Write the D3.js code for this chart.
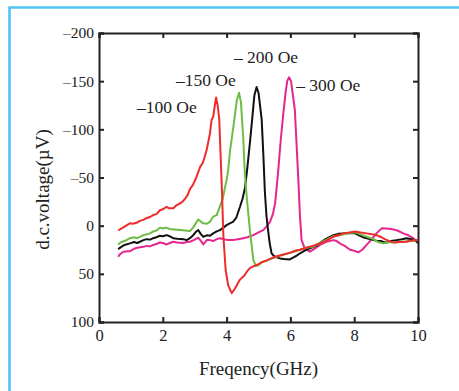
<!DOCTYPE html>
<html>
<head>
<meta charset="utf-8">
<script src="https://d3js.org/d3.v7.min.js"></script>
<style>
  body { margin: 0; background: #fff; }
  text { font-family: "Liberation Serif", "Times New Roman", serif; fill: #222; }
</style>
</head>
<body>
<div id="chart"></div>
<script>
// tick labels
var xTicks = [0, 2, 4, 6, 8, 10];
var yTicks = [-200, -150, -100, -50, 0, 50, 100];

// series: [frequency GHz, d.c. voltage uV]
var oe100 = [[0.6,5],[0.7,3],[0.8,1],[0.9,-1],[0.97,-2.4],[1.05,-2],[1.18,-3],[1.28,-5],[1.39,-6],[1.5,-8],[1.6,-9],[1.7,-11],[1.8,-12],[1.91,-16],[2.0,-17],[2.12,-19.6],[2.2,-18],[2.33,-18],[2.42,-21],[2.54,-23],[2.62,-25],[2.7,-28],[2.78,-32],[2.85,-38],[2.94,-42],[3.05,-50],[3.17,-61],[3.25,-65],[3.3,-70],[3.37,-78],[3.42,-86],[3.48,-96],[3.53,-110],[3.58,-113],[3.63,-125],[3.67,-133],[3.72,-125],[3.77,-110],[3.81,-75],[3.85,-40],[3.9,11],[3.97,46],[4.05,62],[4.16,70],[4.25,66],[4.35,60],[4.42,56],[4.55,52],[4.65,47],[4.73,44],[4.85,42],[5.0,40],[5.1,38],[5.26,36],[5.4,34],[5.55,32],[5.78,30],[6.0,28],[6.15,26],[6.3,25],[6.5,23],[6.7,21],[6.93,18.4],[7.1,16],[7.35,11.5],[7.5,10],[7.66,8],[7.85,7],[8.03,6],[8.2,7],[8.39,8],[8.55,9],[8.7,9.8],[8.85,12],[8.96,14],[9.1,16],[9.22,17.4],[9.4,17],[9.64,16.7],[9.8,15.5],[10,15]];
var oe150 = [[0.6,19.4],[0.7,17],[0.8,16],[0.97,13],[1.1,12],[1.2,13],[1.39,9.8],[1.5,9],[1.6,8],[1.7,6],[1.8,5],[1.91,2.2],[2.0,3],[2.1,2],[2.22,3.5],[2.35,4],[2.54,4.6],[2.7,5],[2.85,5.6],[2.95,2],[3.0,-0.6],[3.11,-6.5],[3.2,-4],[3.27,-2.4],[3.38,-2],[3.48,-4],[3.58,-9.3],[3.69,-11],[3.79,-20],[3.88,-28],[3.95,-40],[4.0,-47],[4.05,-58],[4.11,-78.5],[4.18,-95],[4.25,-112],[4.32,-130],[4.39,-138],[4.45,-128],[4.52,-92],[4.57,-55],[4.63,-30],[4.73,4.6],[4.84,35.7],[4.92,42],[5.0,41],[5.1,38],[5.2,37],[5.35,35],[5.5,33],[5.7,31],[5.9,29],[6.1,27],[6.3,25],[6.5,23],[6.7,22],[6.93,18],[7.1,15],[7.35,11],[7.55,10],[7.8,8],[8.03,7],[8.2,9],[8.39,11.5],[8.6,14],[8.75,17],[8.91,18.4],[9.1,17],[9.3,17.5],[9.5,16.7],[9.7,16],[9.85,15.6],[10,15]];
var oe200 = [[0.6,24.3],[0.7,22],[0.8,20],[0.97,18.4],[1.1,17],[1.2,18],[1.39,15],[1.5,14],[1.6,14.5],[1.7,13],[1.8,12],[1.91,10.5],[2.0,11],[2.12,9.8],[2.22,11],[2.33,13],[2.45,13.5],[2.64,14],[2.75,15],[2.85,13],[2.95,10],[3.05,6],[3.11,4.6],[3.2,9],[3.27,11.5],[3.38,10],[3.48,10.5],[3.58,8],[3.69,6],[3.79,4.6],[3.9,2],[4.0,-0.6],[4.1,-2.4],[4.2,-4],[4.3,-8],[4.42,-19.6],[4.5,-28],[4.58,-40],[4.65,-60],[4.73,-85.8],[4.8,-110],[4.87,-135],[4.94,-144],[5.0,-138],[5.1,-110],[5.15,-75],[5.2,-35],[5.25,-10],[5.3,4.6],[5.35,18],[5.41,28.8],[5.5,32],[5.67,34],[5.8,34.5],[5.98,35],[6.1,33],[6.2,31],[6.3,28.8],[6.45,26],[6.61,23.6],[6.8,21],[6.93,17.7],[7.1,14],[7.35,9.8],[7.5,8.5],[7.66,8],[7.85,7.5],[8.03,8],[8.15,10],[8.29,12.2],[8.5,14],[8.7,15.6],[8.85,16],[9.0,17.7],[9.15,16],[9.33,15],[9.5,14],[9.64,13],[9.8,14],[9.9,15],[10,18]];
var oe300 = [[0.6,32.3],[0.65,30],[0.76,27],[0.9,26.5],[0.97,26.5],[1.1,24],[1.2,23],[1.39,22],[1.5,21],[1.6,21.5],[1.7,20],[1.8,19],[1.91,17.4],[2.0,18],[2.12,19.5],[2.22,18],[2.33,16.7],[2.45,17.5],[2.64,18],[2.75,17],[2.85,16.7],[2.97,15],[3.11,12.5],[3.2,16],[3.27,19.4],[3.38,15],[3.48,15],[3.58,16],[3.69,14],[3.79,13],[3.9,14],[4.05,15],[4.2,15],[4.35,14],[4.52,13],[4.65,12],[4.84,9.8],[5.0,7],[5.15,4.6],[5.25,1],[5.36,-4],[5.45,-12],[5.52,-23],[5.57,-40],[5.62,-57.7],[5.7,-90],[5.78,-117],[5.85,-138],[5.9,-150],[5.96,-154],[6.02,-150],[6.08,-135],[6.14,-120],[6.2,-80],[6.25,-47],[6.3,-10],[6.35,15],[6.45,23.6],[6.61,27],[6.75,24],[6.93,20],[7.1,17],[7.35,15],[7.45,16],[7.55,18.4],[7.7,21],[7.87,25],[8.0,26],[8.13,27.7],[8.25,25],[8.39,20],[8.55,14],[8.7,8],[8.86,2.8],[9.0,3],[9.17,3.5],[9.35,5],[9.54,8],[9.7,10],[9.85,13],[9.98,16.7]];

var seriesNames = ["– 300 Oe", "– 200 Oe", "–150 Oe", "–100 Oe"];
var seriesData = [oe300, oe200, oe150, oe100];
var seriesColors = ["#e6268f", "#111111", "#6cbd45", "#ef2b2b"];
// label anchor in data units [freq, voltage]
var labelPos = [[6.18, -140], [4.23, -169], [2.41, -145], [1.19, -117]];

var width = 459, height = 391;
var plotLeft = 99, plotRight = 418, plotTop = 33, plotBottom = 322;

var svg = d3.select("#chart").append("svg")
    .attr("width", width)
    .attr("height", height);

// cyan frame
svg.append("path")
    .attr("d", "M9.5," + height + "V7.5H" + width)
    .attr("fill", "none")
    .attr("stroke", "#4fc4f4")
    .attr("stroke-width", 2.6);

var x = d3.scaleLinear().domain([0, 10]).range([plotLeft, plotRight]);
var y = d3.scaleLinear().domain([-200, 100]).range([plotTop, plotBottom]);

function fmt(d) { return d < 0 ? "–" + Math.abs(d) : String(d); }

// axes, ticks pointing inward
svg.append("g")
    .attr("transform", "translate(0," + plotBottom + ")")
    .call(d3.axisBottom(x).tickValues(xTicks).tickSize(-5).tickPadding(7).tickFormat(fmt))
    .call(function (g) {
        g.selectAll("text").style("font-size", "16.5px").attr("dy", "0.71em");
    });
svg.append("g")
    .attr("transform", "translate(" + plotLeft + ",0)")
    .call(d3.axisLeft(y).tickValues(yTicks).tickSize(-5).tickPadding(5).tickFormat(fmt))
    .call(function (g) {
        g.selectAll("text").style("font-size", "15.5px");
    });
svg.append("g")
    .attr("transform", "translate(0," + plotTop + ")")
    .call(d3.axisTop(x).tickValues(xTicks).tickSize(-5).tickFormat(""));
svg.append("g")
    .attr("transform", "translate(" + plotRight + ",0)")
    .call(d3.axisRight(y).tickValues(yTicks).tickSize(-5).tickFormat(""));

svg.selectAll(".domain").attr("stroke", "#222").attr("stroke-width", 2);
svg.selectAll(".tick line").attr("stroke", "#222").attr("stroke-width", 2);

// lines
var line = d3.line()
    .x(function (d) { return x(d[0]); })
    .y(function (d) { return y(d[1]); });

seriesData.forEach(function (s, i) {
    svg.append("path")
        .datum(s)
        .attr("d", line)
        .attr("fill", "none")
        .attr("stroke", seriesColors[i])
        .attr("stroke-width", 2)
        .attr("stroke-linejoin", "round");
});

// series labels
seriesNames.forEach(function (name, i) {
    svg.append("text")
        .attr("x", x(labelPos[i][0]))
        .attr("y", y(labelPos[i][1]))
        .style("font-size", "17.5px")
        .text(name);
});

// axis titles
svg.append("text")
    .attr("x", (plotLeft + plotRight) / 2)
    .attr("y", 375)
    .attr("text-anchor", "middle")
    .style("font-size", "19px")
    .text("Freqency(GHz)");

svg.append("text")
    .attr("transform", "translate(49," + ((plotTop + plotBottom) / 2 + 12) + ") rotate(-90)")
    .attr("text-anchor", "middle")
    .style("font-size", "19px")
    .text("d.c.voltage(µV)");
</script>
</body>
</html>
